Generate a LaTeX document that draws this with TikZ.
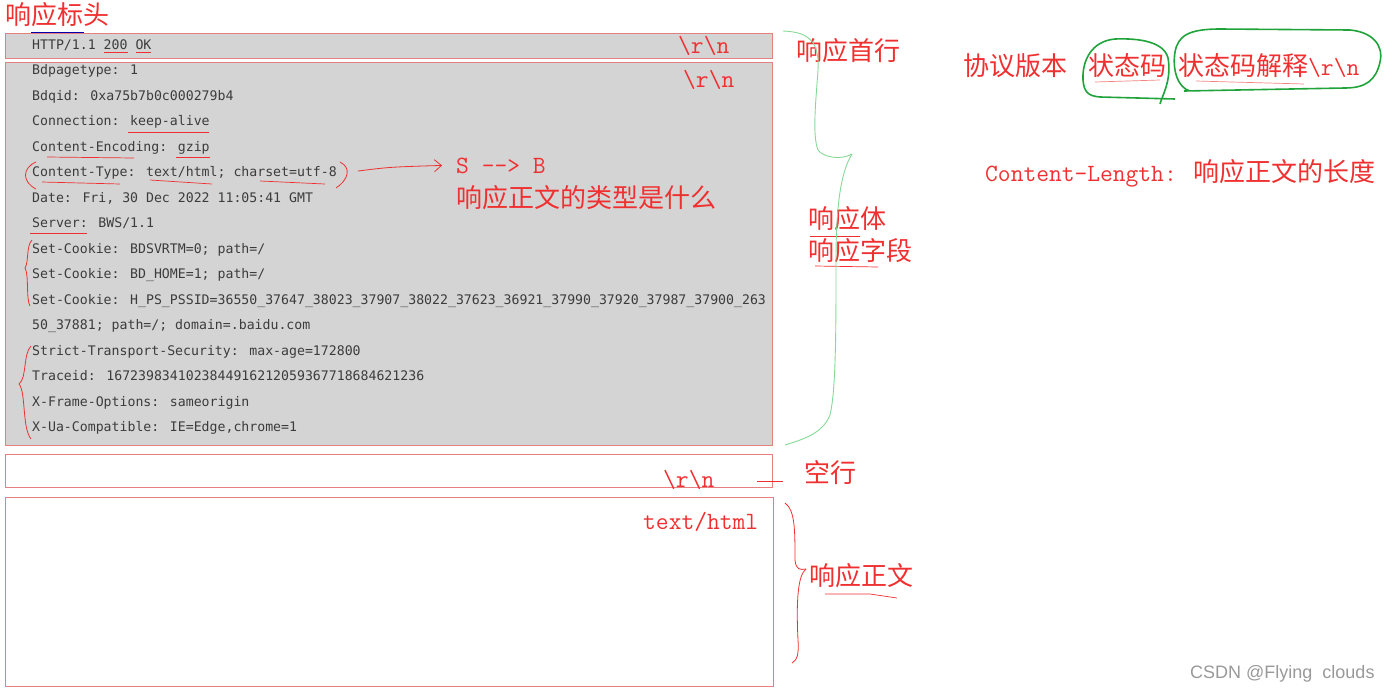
\documentclass[tikz,border=0pt]{standalone}
\usepackage{fontspec}
\usetikzlibrary{arrows.meta}
\newfontfamily\cjk{Noto Sans CJK SC}
\newfontfamily\codemono{DejaVu Sans Mono}
\newfontfamily\wmsans{Liberation Sans}
\definecolor{paneback}{HTML}{D4D4D4}
\definecolor{paneedge}{HTML}{E58080}
\definecolor{codegray}{HTML}{3C3C3C}
\definecolor{notered}{HTML}{F03030}
\definecolor{handgreen}{HTML}{1FA33A}
\definecolor{bracegreen}{HTML}{86D996}
\newcommand\hdrfont{\codemono\fontsize{13.2}{15}\selectfont}
\newcommand\notefont{\cjk\fontsize{26}{28}\selectfont}
\newcommand\crfont{\ttfamily\fontsize{24.8}{27}\selectfont}
\newcommand\crlf{{\crfont\textbackslash r\textbackslash n}}
\tikzstyle{hdr}=[anchor=base west,inner sep=0pt,font=\hdrfont,text=codegray]
\tikzstyle{note}=[anchor=base west,inner sep=0pt,font=\notefont,text=notered]
\tikzstyle{pane}=[draw=paneedge,line width=0.8pt]
\tikzstyle{uline}=[draw=notered,line width=0.7pt]
\tikzstyle{redhand}=[draw=notered,line width=0.8pt]
\tikzstyle{greenhand}=[draw=handgreen,line width=1.6pt]

\begin{document}
\begin{tikzpicture}[x=1pt,y=-1pt]
\useasboundingbox (0,0) rectangle (1397,691);

% the four panes
\draw[pane,fill=paneback] (5,33) rectangle (772,58);
\draw[pane,fill=paneback] (5,62) rectangle (772,445);
\draw[pane] (5,454) rectangle (772,487);
\draw[pane] (5,497) rectangle (773,686);
\draw[draw=blue!70!black,line width=1pt] (31,32) -- (84,32);

% header lines
\node[hdr] at (32,49) (l1) {HTTP/1.1 200 OK};
\node[hdr] at (32,74.5) (l2) {Bdpagetype: 1};
\node[hdr] at (32,100) (l3) {Bdqid: 0xa75b7b0c000279b4};
\node[hdr] at (32,125.5) (l4) {Connection: keep-alive};
\node[hdr] at (32,151) (l5) {Content-Encoding: gzip};
\node[hdr] at (32,176.5) (l6) {Content-Type: text/html; charset=utf-8};
\node[hdr] at (32,202) (l7) {Date: Fri, 30 Dec 2022 11:05:41 GMT};
\node[hdr] at (32,227.5) (l8) {Server: BWS/1.1};
\node[hdr] at (32,253) (l9) {Set-Cookie: BDSVRTM=0; path=/};
\node[hdr] at (32,278.5) (l10) {Set-Cookie: BD\_HOME=1; path=/};
\node[hdr] at (32,304) (l11) {Set-Cookie: H\_PS\_PSSID=36550\_37647\_38023\_37907\_38022\_37623\_36921\_37990\_37920\_37987\_37900\_263};
\node[hdr] at (32,329.5) (l12) {50\_37881; path=/; domain=.baidu.com};
\node[hdr] at (32,355) (l13) {Strict-Transport-Security: max-age=172800};
\node[hdr] at (32,380.5) (l14) {Traceid: 1672398341023844916212059367718684621236};
\node[hdr] at (32,406) (l15) {X-Frame-Options: sameorigin};
\node[hdr] at (32,431.5) (l16) {X-Ua-Compatible: IE=Edge,chrome=1};

% red marks on the header lines
\draw[uline] (104,52) -- (128,52);
\draw[uline] (136,52) -- (151,52);
\draw[uline] (128,132) -- (209,132);
\draw[uline] (47,157) -- (134,158);
\draw[uline] (176,157) -- (210,157);
\draw[uline] (42,182) -- (120,184);
\draw[uline] (150,180) -- (212,184);
\draw[uline] (260,181) -- (325,184);
\draw[uline] (30,233) -- (87,233);
\draw[redhand] (36,162) .. controls (22,168) and (22,182) .. (36,189);
\draw[redhand] (340,162) .. controls (352,168) and (348,180) .. (336,188);
\draw[redhand] (32,240) .. controls (26,246) and (29,262) .. (25,268)
  .. controls (29,274) and (26,300) .. (30,306);
\draw[redhand] (31,346) .. controls (23,354) and (27,378) .. (19,384)
  .. controls (26,392) and (22,428) .. (31,439);

% notes
\node[note] at (5,24) (title) {响应标头};
\node[note,font=\crfont] at (678,53) (crlfa) {\crlf};
\node[note,font=\crfont] at (683,87) (crlfb) {\crlf};
\node[note,font=\crfont] at (456,173) (sb) {S -{}-> B};
\node[note] at (456,207) (ctype) {响应正文的类型是什么};
\coordinate (ctend) at (358,171);
\draw[redhand,-{Straight Barb[length=7pt,width=12pt]}] (ctend) .. controls (390,167) .. ([xshift=-14pt]sb.west);

\node[note] at (796,60) (firstline) {响应首行};
\node[note] at (808,228) (body) {响应体};
\node[note] at (808,260) (fields) {响应字段};
\draw[uline] (810,236) -- (860,236);
\draw[uline] (815,266) -- (878,267);

\node[note] at (963,75) (version) {协议版本};
\node[note] at (1088,75) (code) {状态码};
\node[note] at (1178,75) (reason) {状态码解释\crlf};
\draw[uline,draw=notered!60] (1095,82) -- (1160,80);
\draw[uline,draw=notered!60] (1196,81) -- (1304,84);
\node[note] at (985,181) (clen) {{\crfont Content-Length: }响应正文的长度};

% green marks
\draw[greenhand] (1160,104) .. controls (1162,96) and (1172,80) .. (1168,58)
  .. controls (1164,42) and (1140,38) .. (1115,39)
  .. controls (1092,41) and (1082,60) .. (1083,80)
  .. controls (1084,92) and (1088,96) .. (1100,97) -- (1175,99);
\draw[greenhand] (1190,91) .. controls (1178,88) and (1172,70) .. (1175,52)
  .. controls (1178,36) and (1188,29) .. (1220,29) -- (1350,30)
  .. controls (1372,32) and (1384,45) .. (1380,62)
  .. controls (1376,80) and (1366,88) .. (1345,88) -- (1184,91);
\draw[draw=bracegreen,line width=0.9pt] (783,31) .. controls (805,32) and (820,38) .. (818,70)
  .. controls (816,100) and (812,135) .. (818,150)
  .. controls (824,158) and (842,160) .. (852,154);
\draw[draw=bracegreen,line width=0.9pt] (852,154) .. controls (842,170) and (836,200) .. (836,260)
  .. controls (836,330) and (836,390) .. (830,415)
  .. controls (822,435) and (800,440) .. (785,445);

% blank line and body
\node[note,font=\crfont] at (663,487) (crlfc) {\crlf};
\draw[redhand] (757,481) -- (783,481);
\node[note] at (804,482) (blank) {空行};
\node[note,font=\crfont] at (643,529) (html) {text/html};
\draw[redhand] (785,503) .. controls (795,510) and (795,530) .. (795,560)
  .. controls (796,570) and (800,570) .. (806,569);
\draw[redhand] (806,569) .. controls (798,575) and (796,600) .. (798,640)
  .. controls (799,655) and (797,660) .. (792,663);
\node[note] at (809,585) (bodytext) {响应正文};
\draw[uline] (825,594) -- (870,594) -- (897,598);

\node[anchor=base west,inner sep=0pt,font=\wmsans\fontsize{18}{20}\selectfont,text=gray!80] at (1190,678) (wm) {CSDN @Flying\ \ clouds};
\end{tikzpicture}
\end{document}
